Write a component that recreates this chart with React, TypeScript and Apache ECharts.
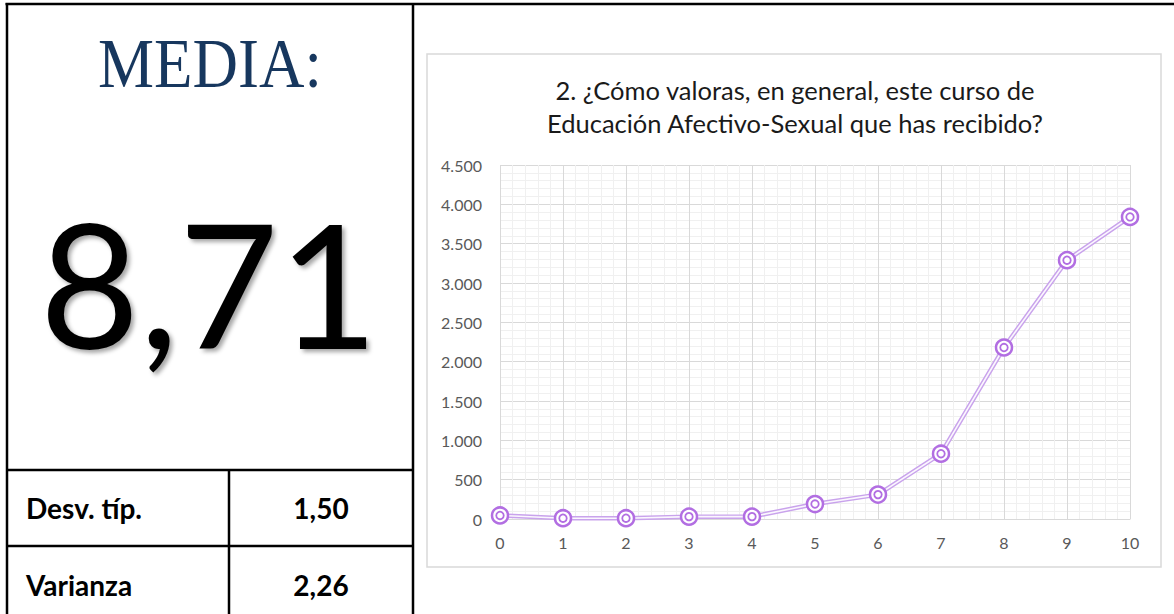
import React, { useEffect, useRef } from "react";
import * as echarts from "echarts";

const categories = [0, 1, 2, 3, 4, 5, 6, 7, 8, 9, 10];
const counts = [45, 10, 10, 30, 30, 190, 310, 830, 2180, 3290, 3840];
const yTicks = [0, 500, 1000, 1500, 2000, 2500, 3000, 3500, 4000, 4500];
const titleLines = [
  "2. ¿Cómo valoras, en general, este curso de",
  "Educación Afectivo-Sexual que has recibido?",
];
const meanLabel = "MEDIA:";
const meanValue = "8,71";
const statNames = ["Desv. típ.", "Varianza"];
const statValues = ["1,50", "2,26"];

const fmt = (v: number) => {
  const s = String(Math.round(v));
  return s.replace(/\B(?=(\d{3})+(?!\d))/g, ".");
};

export default function App() {
  const ref = useRef<HTMLDivElement>(null);
  useEffect(() => {
    if (!ref.current) return;
    const chart = echarts.init(ref.current, undefined, { renderer: "svg" });
    const pts = categories.map((c, i) => [c, counts[i]]);
    const black = "#000";
    const lw = 2.5;
    const line = (x1: number, y1: number, x2: number, y2: number) => ({
      type: "line",
      shape: { x1, y1, x2, y2 },
      style: { stroke: black, lineWidth: lw },
      z: 10,
    });
    const sans = "Lato, 'Open Sans', sans-serif";
    chart.setOption({
      animation: false,
      backgroundColor: "#fff",
      graphic: [
        {
          type: "rect",
          shape: { x: 427, y: 54, width: 734, height: 513 },
          style: { fill: "#fff", stroke: "#D9D9D9", lineWidth: 1.5 },
          z: -10,
        },
        line(5.5, 4, 1174, 4),
        line(7, 3, 7, 614),
        line(413, 3, 413, 614),
        line(7, 470, 413, 470),
        line(7, 546, 413, 546),
        line(229, 470, 229, 614),
        {
          type: "text",
          x: 210,
          y: 63,
          scaleY: 1.1,
          style: {
            text: meanLabel,
            fill: "#17375E",
            font: "63px 'Liberation Serif', serif",
            textAlign: "center",
            textVerticalAlign: "middle",
          },
        },
        {
          type: "text",
          x: 209,
          y: 282,
          style: {
            text: meanValue,
            fill: "#000",
            font: "172px Lato, sans-serif",
            textAlign: "center",
            textVerticalAlign: "middle",
            textShadowColor: "rgba(0,0,0,0.35)",
            textShadowBlur: 4,
            textShadowOffsetX: 3,
            textShadowOffsetY: 3,
          },
        },
        ...statNames.map((n, i) => ({
          type: "text",
          x: 26,
          y: 508 + i * 77,
          style: {
            text: n,
            fill: "#000",
            font: "bold 28px Lato, sans-serif",
            textAlign: "left",
            textVerticalAlign: "middle",
          },
        })),
        ...statValues.map((n, i) => ({
          type: "text",
          x: 321,
          y: 508 + i * 77,
          style: {
            text: n,
            fill: "#000",
            font: "bold 28px Lato, sans-serif",
            textAlign: "center",
            textVerticalAlign: "middle",
          },
        })),
        ...titleLines.map((t, i) => ({
          type: "text",
          x: 795,
          y: 90 + i * 33,
          style: {
            text: t,
            fill: "#1a1a1a",
            font: "25.5px Lato, sans-serif",
            textAlign: "center",
            textVerticalAlign: "middle",
          },
        })),
      ],
      grid: { left: 500, top: 165, width: 630, height: 354 },
      xAxis: {
        type: "value",
        min: 0,
        max: 10,
        interval: 1,
        axisLine: { show: true, lineStyle: { color: "#D9D9D9", width: 1.2 } },
        axisTick: { show: false },
        minorTick: { show: false, splitNumber: 5 },
        minorSplitLine: { show: true, lineStyle: { color: "#F0F0F0", width: 1 } },
        splitLine: { show: true, lineStyle: { color: "#D9D9D9", width: 1 } },
        axisLabel: { color: "#595959", fontSize: 16, fontFamily: sans, margin: 15 },
      },
      yAxis: {
        type: "value",
        min: yTicks[0],
        max: yTicks[yTicks.length - 1],
        interval: yTicks[1] - yTicks[0],
        axisLine: { show: false },
        axisTick: { show: false },
        minorTick: { show: false, splitNumber: 5 },
        minorSplitLine: { show: true, lineStyle: { color: "#F0F0F0", width: 1 } },
        splitLine: { show: true, lineStyle: { color: "#D9D9D9", width: 1 } },
        axisLabel: {
          color: "#595959",
          fontSize: 16,
          fontFamily: sans,
          margin: 18,
          formatter: (v: number) => fmt(v),
        },
      },
      series: [
        {
          type: "line",
          data: pts,
          showSymbol: false,
          lineStyle: { color: "#C9A3EC", width: 4.5 },
          z: 3,
        },
        {
          type: "line",
          data: pts,
          symbol: "circle",
          symbolSize: 16,
          showSymbol: true,
          lineStyle: { color: "#FBF7FE", width: 1.6 },
          itemStyle: { color: "#fff", borderColor: "#B26EE2", borderWidth: 2.5 },
          z: 4,
        },
        {
          type: "scatter",
          data: pts,
          symbol: "circle",
          symbolSize: 7.5,
          itemStyle: { color: "#fff", borderColor: "#B26EE2", borderWidth: 1.8, opacity: 1 },
          z: 5,
        },
      ],
    });
    return () => chart.dispose();
  }, []);
  return (
    <div
      ref={ref}
      style={{ position: "fixed", left: 0, top: 0, width: 1174, height: 614, background: "#fff" }}
    />
  );
}
